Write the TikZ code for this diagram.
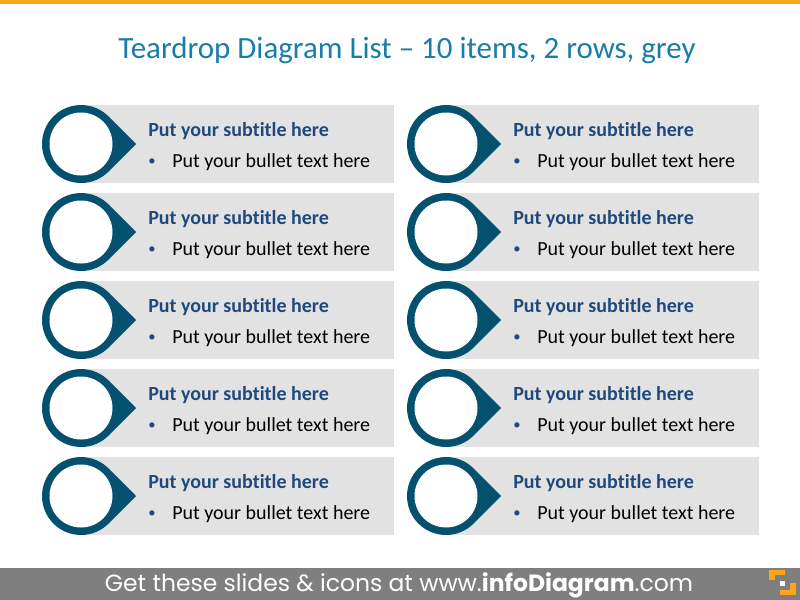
\documentclass[tikz,border=0pt]{standalone}
\usepackage{fontspec}
\usetikzlibrary{calc}
\setmainfont{Carlito}[Ligatures={NoCommon}]
\newfontfamily\footfont{Poppins}
\definecolor{dropblue}{RGB}{3,80,111}
\definecolor{boxgrey}{RGB}{226,226,226}
\definecolor{subblue}{RGB}{31,73,125}
\definecolor{titleblue}{RGB}{23,125,170}
\definecolor{footgrey}{RGB}{127,127,127}
\definecolor{topor}{RGB}{249,166,26}
\tikzset{
  itembox/.style={fill=boxgrey, draw=none},
  subtxt/.style={anchor=base west, inner sep=0pt, text=subblue, font=\fontsize{15}{18}\selectfont\bfseries},
  bultxt/.style={anchor=base west, inner sep=0pt, text=black, font=\fontsize{15}{18}\selectfont},
  bulmark/.style={anchor=base west, inner sep=0pt, text=subblue, font=\fontsize{11}{13}\selectfont},
}
\begin{document}
\begin{tikzpicture}[x=0.75pt,y=-0.75pt]
\useasboundingbox (0,0) rectangle (800,600);
\fill[topor] (0,0) rectangle (800,4);
\node[anchor=base, inner sep=0pt, text=titleblue, font=\fontsize{23.2}{27}\selectfont] (title) at (407,58) {Teardrop Diagram List – 10 items, 2 rows, grey};
\foreach \col/\dx in {0/0,1/365}{
  \foreach \row in {0,...,4}{
    \pgfmathsetmacro{\cy}{144+88*\row}
    \pgfmathsetmacro{\cx}{81+\dx}
    \fill[itembox] (\cx,\cy-39) rectangle (394+\dx,\cy+39);
    \fill[dropblue] (\cx+55,\cy) -- ($(\cx,\cy)+(44.8:39)$) arc[start angle=44.8, end angle=315.2, radius=39] -- cycle;
    \fill[white] (\cx,\cy) circle[radius=31.5];
    \node[subtxt] (s\col\row) at (148+\dx,\cy-8) {Put your subtitle here};
    \node[bulmark] (m\col\row) at (148+\dx,\cy+21) {•};
    \node[bultxt] (b\col\row) at (172+\dx,\cy+23) {Put your bullet text here};
  }
}
\fill[footgrey] (0,568) rectangle (800,600);
\node[anchor=base, inner sep=0pt, text=white, font=\footfont\fontsize{17.6}{20}\selectfont] (foot) at (399,591) {Get these slides \& icons at www.\textbf{infoDiagram}.com};
\fill[topor] (769,570) rectangle (785,575);
\fill[topor] (769,570) rectangle (775,580);
\fill[topor] (780,590) rectangle (796,595);
\fill[topor] (790,583) rectangle (796,595);
\fill[white] (780,581) rectangle (785,586);
\end{tikzpicture}
\end{document}
